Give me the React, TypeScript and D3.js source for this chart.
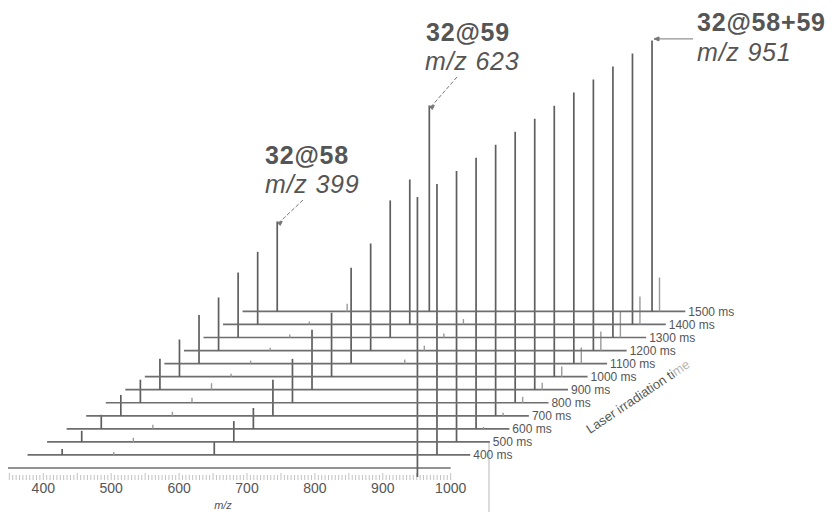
import React from "react";
import * as d3 from "d3";

// ---- data ----
const times = [400, 500, 600, 700, 800, 900, 1000, 1100, 1200, 1300, 1400, 1500];
const frontTime = 300; // unlabeled front spectrum
const mzTicks = [400, 500, 600, 700, 800, 900, 1000];
const mzRange = [348, 1000];

// relative intensities (% of base peak m/z 951) for each trace 400..1500 ms
const int399 = [2.2, 4.1, 5.2, 7.7, 8.5, 11.4, 13.7, 17.9, 19.6, 24.0, 26.8, 33.2];
const int475 = [1.1, 1.5, 1.5, 1.5, 1.8, 2.4, 1.1, 1.1, 1.0, 1.1, 1.1, 0];
const int502 = [0, 0, 0, 0, 0, 0, 0, 0, 0, 0, 0, 2.8];
const int623 = [4.8, 7.7, 7.7, 13.3, 16.2, 22.1, 23.6, 35.4, 39.5, 50.6, 53.5, 76.0];
const int702 = [0, 0, 0, 0, 0, 0, 0, 1.5, 1.8, 1.5, 2.0, 0];
const int951 = [100, 100, 100, 100, 100, 100, 100, 100, 100, 100, 100, 100];
const int962 = [0, 0, 0.7, 1.1, 2.2, 2.6, 3.7, 5.9, 7.0, 9.6, 10.3, 12.5];
const frontInt951 = 100;

const peakMz = [399, 475, 502, 623, 702, 951, 962];
const peakSeries = [int399, int475, int502, int623, int702, int951, int962];
const majorMz = [399, 623, 951];

const annotations = [
  { title: "32@58", sub: "m/z 399", mz: 399, time: 1500 },
  { title: "32@59", sub: "m/z 623", mz: 623, time: 1500 },
  { title: "32@58+59", sub: "m/z 951", mz: 951, time: 1500 },
];

const W = 832;
const H = 512;
const FONT = "'Liberation Sans', Arial, Helvetica, sans-serif";

export default function App() {
  const x = d3.scaleLinear().domain([400, 1000]).range([43.3, 450.7]);
  const depthX = d3.scaleLinear().domain([frontTime, 1500]).range([0, 234.6]);
  const baseY = d3.scaleLinear().domain([frontTime, 1500]).range([468, 311.4]);
  const h = d3.scaleLinear().domain([0, 100]).range([0, 271]);

  const px = (mz: number, t: number) => x(mz) + depthX(t);
  const top = (v: number, t: number) => baseY(t) - h(v);

  const minorTicks = d3.range(350, 1001, 5);

  const a0 = annotations[0], a1 = annotations[1], a2 = annotations[2];
  const tip0 = { x: px(a0.mz, a0.time), y: top(int399[11], a0.time) };
  const tip1 = { x: px(a1.mz, a1.time), y: top(int623[11], a1.time) };
  const tip2 = { x: px(a2.mz, a2.time), y: top(int951[11], a2.time) };

  const gray = "#6e6e6e";

  return (
    <svg width={W} height={H} style={{ position: "absolute", left: 0, top: 0, background: "#fff" }}
      fontFamily={FONT}>
      <line x1={489} x2={489} y1={441} y2={H} stroke="#c4c4c4" strokeWidth={1.2} />

      <g stroke="#c2c2c2" strokeWidth={1}>
        {minorTicks.map((m) => (
          <line key={m} x1={x(m)} x2={x(m)} y1={m % 50 === 0 ? 473 : 475} y2={480} />
        ))}
      </g>
      <line x1={x(mzRange[0])} x2={x(mzRange[1])} y1={baseY(frontTime)} y2={baseY(frontTime)}
        stroke={gray} strokeWidth={1.7} />
      <line x1={x(951)} x2={x(951)} y1={baseY(frontTime) + 9} y2={top(frontInt951, frontTime)}
        stroke="#5e5e5e" strokeWidth={1.7} />

      {mzTicks.map((t) => (
        <text key={t} x={x(t)} y={493} fontSize={14} fill="#555" textAnchor="middle">{t}</text>
      ))}
      <text x={223} y={509} fontSize={11} fontStyle="italic" fill="#555" textAnchor="middle">m/z</text>

      {times.map((t, i) => {
        const y0 = baseY(t);
        return (
          <g key={t}>
            <line x1={px(mzRange[0], t)} x2={px(mzRange[1], t)} y1={y0} y2={y0}
              stroke={gray} strokeWidth={1.7} />
            {peakMz.map((m, j) => {
              const v = peakSeries[j][i];
              if (!v) return null;
              const major = majorMz.includes(m);
              return (
                <line key={m} x1={px(m, t)} x2={px(m, t)} y1={y0} y2={top(v, t)}
                  stroke={major ? "#5e5e5e" : "#9a9a9a"} strokeWidth={major ? 1.7 : 1.4} />
              );
            })}
            <text x={px(mzRange[1], t) + 3} y={y0 + 4.5} fontSize={12} fill="#555">{t} ms</text>
          </g>
        );
      })}

      <text transform={`translate(590,434) rotate(-33.8)`} fontSize={13} fill="#555">
        Laser irradiation ti<tspan fill="#b5b5b5">me</tspan>
      </text>

      <g fill="#555" letterSpacing={0.8}>
        <text x={265} y={164} fontSize={25} fontWeight="bold">{a0.title}</text>
        <text x={265} y={193} fontSize={25} fontStyle="italic">{a0.sub}</text>
        <text x={426} y={41} fontSize={25} fontWeight="bold">{a1.title}</text>
        <text x={425} y={70} fontSize={25} fontStyle="italic">{a1.sub}</text>
        <text x={697} y={31} fontSize={25} fontWeight="bold">{a2.title}</text>
        <text x={697} y={61} fontSize={25} fontStyle="italic">{a2.sub}</text>
      </g>
      <g stroke="#777" strokeWidth={1}>
        <line x1={303} y1={200} x2={tip0.x + 2} y2={tip0.y + 1} strokeDasharray="4,2" />
        <path d={`M${tip0.x},${tip0.y + 1} l5,-1 l-2,4 z`} fill="#777" />
        <line x1={457} y1={77} x2={tip1.x + 2} y2={tip1.y + 1} strokeDasharray="4,2" />
        <path d={`M${tip1.x},${tip1.y + 1} l5,-1 l-2,4 z`} fill="#777" />
        <line x1={693} y1={tip2.y - 1.5} x2={tip2.x + 3} y2={tip2.y - 1.5} />
        <path d={`M${tip2.x + 2},${tip2.y - 1.5} l5,-2 l0,4 z`} fill="#777" />
      </g>
    </svg>
  );
}
